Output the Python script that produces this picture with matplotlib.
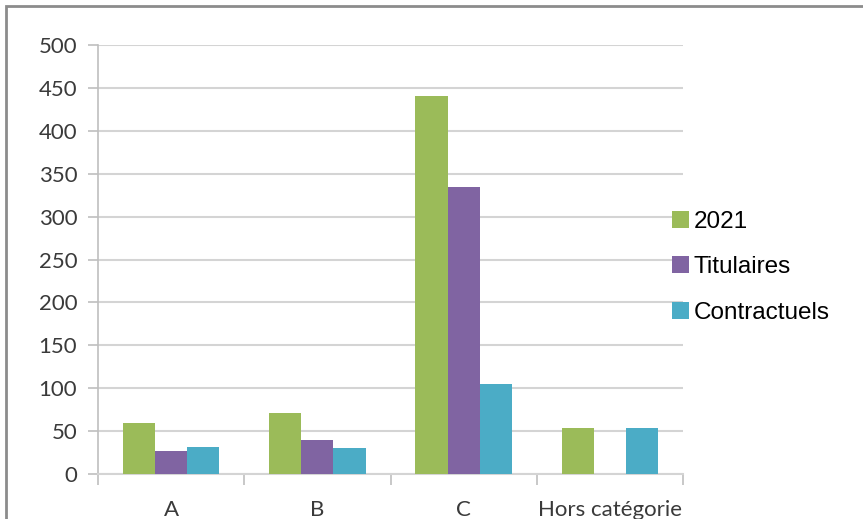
import matplotlib
matplotlib.use("Agg")
import matplotlib.pyplot as plt
import numpy as np
from matplotlib.patches import Patch, Rectangle

# données
categories = ["A", "B", "C", "Hors catégorie"]
series_names = ["2021", "Titulaires", "Contractuels"]
vals_2021 = [60, 71, 440, 54]
vals_titulaires = [27, 40, 334, 0]
vals_contractuels = [32, 30, 105, 54]
colors = ["#9BBB59", "#8064A2", "#4BACC6"]

W, H = 863, 519
fig = plt.figure(figsize=(W / 100, H / 100), dpi=100)
ax = fig.add_axes([98 / W, 1 - 474 / H, (683 - 98) / W, (474 - 45) / H])

x = np.arange(len(categories))
bw = 0.22
for i, (vals, col) in enumerate(zip([vals_2021, vals_titulaires, vals_contractuels], colors)):
    ax.bar(x + (i - 1) * bw, vals, width=bw, color=col, zorder=3)

ax.set_xlim(-0.5, len(categories) - 0.5)
ax.set_ylim(0, 500)
ax.set_yticks(np.arange(0, 501, 50))
ax.yaxis.grid(True, color="#D4D4D4", lw=1.5, zorder=0)
ax.set_axisbelow(True)

for s in ["top", "right"]:
    ax.spines[s].set_visible(False)
ax.spines["left"].set_color("#BFBFBF")
ax.spines["bottom"].set_color("#D4D4D4")
ax.spines["left"].set_linewidth(1.2)
ax.spines["bottom"].set_linewidth(1.5)

ax.set_xticks(x)
ax.set_xticklabels(categories)
ax.set_xticks(np.arange(-0.5, len(categories)), minor=True)
ax.tick_params(axis="x", which="major", length=0, pad=19)
ax.tick_params(axis="x", which="minor", length=8, color="#BFBFBF", width=1.2)
ax.tick_params(axis="y", length=7, color="#BFBFBF", width=1.2, pad=8)
for lab in ax.get_xticklabels() + ax.get_yticklabels():
    lab.set_fontfamily("Lato")
    lab.set_fontsize(16)
    lab.set_color("#3A3A3A")

handles = [Patch(facecolor=c, edgecolor="none") for c in colors]
fig.legend(handles, series_names, loc="upper left",
           bbox_to_anchor=(650 / W, 1 - 189 / H), frameon=False,
           handlelength=0.7, handleheight=0.7, handletextpad=0.2,
           labelspacing=0.97, prop={"family": "Liberation Sans", "size": 17.5})

# cadre gris autour du graphique
fig.patches.append(Rectangle((6 / W, -0.1), 1.2, 1 - 6 / H + 0.1,
                             transform=fig.transFigure, fill=False,
                             edgecolor="#8C8C8C", lw=2))

fig.savefig("out.png", dpi=100)
